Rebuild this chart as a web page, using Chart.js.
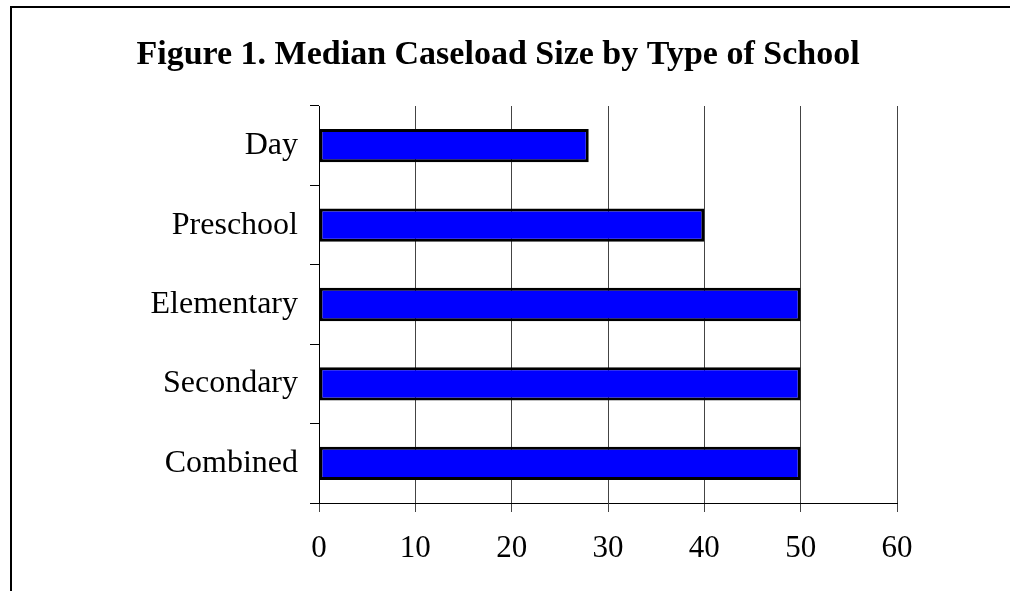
<!DOCTYPE html>
<html>
<head>
<meta charset="utf-8">
<script src="https://cdn.jsdelivr.net/npm/chart.js@4.4.1/dist/chart.umd.min.js"></script>
<style>
  body { margin: 0; background: #fff; }
  #frame {
    position: absolute; left: 10px; top: 6px; width: 1010px; height: 600px;
    border-top: 2px solid #000; border-left: 2px solid #000;
  }
  #wrap { position: absolute; left: 0; top: 0; width: 1010px; height: 591px; }
</style>
</head>
<body>
<div id="frame"></div>
<div id="wrap"><canvas id="caseloadChart" width="1010" height="591"></canvas></div>
<script>
var schoolTypes = ['Day', 'Preschool', 'Elementary', 'Secondary', 'Combined'];
var medianCaseload = [28, 40, 50, 50, 50];
var xTicks = [0, 10, 20, 30, 40, 50, 60];
var chartTitle = 'Figure 1. Median Caseload Size by Type of School';

var serif = "'Liberation Serif', 'Times New Roman', serif";

// title centred on the whole canvas, not on the plot area
var titlePlugin = {
    id: 'pageTitle',
    afterDraw: function (chart) {
        var c = chart.ctx;
        c.save();
        c.font = 'bold 34px ' + serif;
        c.fillStyle = '#000';
        c.textAlign = 'center';
        c.textBaseline = 'alphabetic';
        c.fillText(chartTitle, 498, 64);
        c.restore();
    }
};

var ctx = document.getElementById('caseloadChart').getContext('2d');
var myChart = new Chart(ctx, {
    type: 'bar',
    data: {
        labels: schoolTypes,
        datasets: [{
            label: 'Median caseload',
            data: medianCaseload,
            backgroundColor: '#0000ff',
            borderColor: '#000000',
            borderWidth: 3,
            borderSkipped: false,
            categoryPercentage: 1,
            barPercentage: 0.42
        }]
    },
    options: {
        indexAxis: 'y',
        responsive: false,
        animation: false,
        layout: { padding: { left: 0, right: 113, top: 106, bottom: 0 } },
        plugins: {
            legend: { display: false },
            tooltip: { enabled: false },
            title: { display: false }
        },
        scales: {
            x: {
                min: 0,
                max: 60,
                afterFit: function (scale) { scale.height = 88; },
                afterBuildTicks: function (scale) {
                    scale.ticks = xTicks.map(function (v) { return { value: v }; });
                },
                border: { display: true, color: '#000', width: 1 },
                grid: { color: '#444', lineWidth: 1, tickLength: 9, drawTicks: true },
                ticks: { color: '#000', font: { family: serif, size: 31 }, padding: 18 }
            },
            y: {
                afterFit: function (scale) { scale.width = 319; },
                border: { display: true, color: '#000', width: 1 },
                grid: { drawOnChartArea: false, drawTicks: true, tickLength: 9, color: '#000', offset: true },
                ticks: { color: '#000', font: { family: serif, size: 32 }, padding: 12 }
            }
        }
    },
    plugins: [titlePlugin]
});
</script>
</body>
</html>
